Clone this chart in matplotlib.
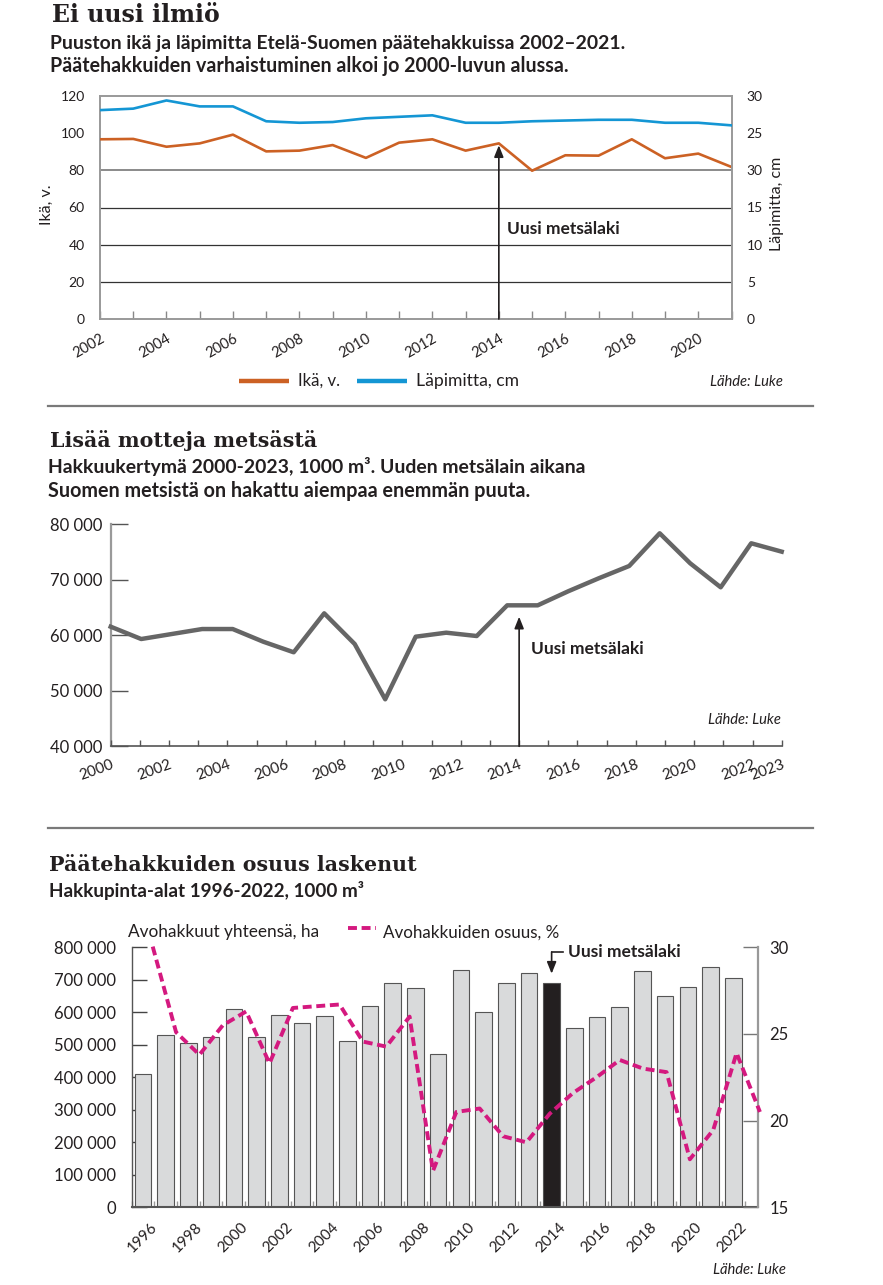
import numpy as np
import matplotlib
matplotlib.use('Agg')
import matplotlib.pyplot as plt
from matplotlib.lines import Line2D

plt.rcParams['font.family'] = ['Lato', 'DejaVu Sans']
plt.rcParams['axes.unicode_minus'] = False

TXT = '#231f20'
ORANGE = '#cc6124'
BLUE = '#1496d4'
PINK = '#d4197f'
W, H = 883, 1285

# ---------------- data: chart 1 ----------------
years1 = list(range(2002, 2022))
age1 = [96.7, 96.9, 92.7, 94.5, 99.2, 90.2, 90.6, 93.6, 86.7, 94.9,
        96.7, 90.6, 94.5, 79.8, 88.1, 87.9, 96.7, 86.5, 89.0, 81.8]
diam1 = [28.1, 28.3, 29.4, 28.6, 28.6, 26.6, 26.4, 26.5, 27.0, 27.2,
         27.4, 26.4, 26.4, 26.6, 26.7, 26.8, 26.8, 26.4, 26.4, 26.05]
age_ticks = [0, 20, 40, 60, 80, 100, 120]
diam_ticks = [0, 5, 10, 15, 20, 25, 30]
diam_tick_labels = ['0', '5', '10', '15', '30', '25', '30']
law_year = 2014

# ---------------- data: chart 2 ----------------
years2 = list(range(2000, 2023))
harvest2 = [61550, 59330, 60230, 61130, 61130, 58850, 56940, 63960, 58430, 48470,
            59750, 60470, 59870, 65400, 65400, 67930, 70270, 72490, 78380, 72970,
            68650, 76580, 75070]
axis_years2 = list(range(2000, 2024))
axis_labels2 = ['2000', '', '2002', '', '2004', '', '2006', '', '2008', '', '2010', '',
                '2012', '', '2014', '', '2016', '', '2018', '', '2020', '', '2022', '2023']
harvest_ticks = [40000, 50000, 60000, 70000, 80000]
harvest_tick_labels = ['40 000', '50 000', '60 000', '70 000', '80 000']

# ---------------- data: chart 3 ----------------
years3 = list(range(1996, 2023))
area3 = [409200, 529200, 504600, 523100, 610200, 523100, 590800, 568100, 587700,
         510800, 618500, 689200, 673900, 470800, 730200, 600000, 689200, 720000,
         691100, 552700, 586500, 616300, 727100, 649200, 678800, 738500, 705600]
share3 = [30.04, 25.1, 23.8, 25.5, 26.3, 23.3, 26.5, 26.6, 26.7, 24.56, 24.27, 26.0,
          17.1, 20.5, 20.7, 19.1, 18.75, 20.4, 21.6, 22.5, 23.5, 23.0, 22.8, 17.77,
          19.46, 23.9, 20.5]
area_ticks = list(range(0, 800001, 100000))
area_tick_labels = ['0', '100 000', '200 000', '300 000', '400 000', '500 000',
                    '600 000', '700 000', '800 000']
share_ticks = [15, 20, 25, 30]
label_years3 = list(range(1996, 2023, 2))

# ---------------- helpers ----------------
fig = plt.figure(figsize=(W / 100, H / 100), dpi=100)
fig.patch.set_facecolor('white')
R = fig.canvas.get_renderer()


def rect(l, t, r, b):
    return [l / W, 1 - b / H, (r - l) / W, (b - t) / H]


def ftext(x, y, s, width=None, size=12, **kw):
    kw.setdefault('color', TXT)
    t = fig.text(x / W, 1 - y / H, s, fontsize=size, **kw)
    if width is not None:
        bb = t.get_window_extent(R)
        t.set_fontsize(size * width / bb.width)
    return t


def fline(x0, x1, y, **kw):
    fig.add_artist(Line2D([x0 / W, x1 / W], [1 - y / H, 1 - y / H],
                          transform=fig.transFigure, **kw))


def rot_labels(ax, angle):
    for lab in ax.get_xticklabels():
        lab.set_rotation(angle)
        lab.set_ha('right')
        lab.set_va('top')
        lab.set_rotation_mode('anchor')


TITLE = dict(family=['DejaVu Serif'], fontweight='bold')
SUB = dict(fontweight='bold')
NARROW = ['Liberation Sans Narrow', 'Lato', 'DejaVu Sans']

# ================= chart 1 =================
ftext(52, 22, 'Ei uusi ilmiö', width=168, size=16, va='baseline', **TITLE)
ftext(50, 48.5, 'Puuston ikä ja läpimitta Etelä-Suomen päätehakkuissa 2002–2021.',
      width=570, size=12, va='baseline', **SUB)
ftext(50, 72, 'Päätehakkuiden varhaistuminen alkoi jo 2000-luvun alussa.',
      width=514, size=12, va='baseline', **SUB)

ax1 = fig.add_axes(rect(100, 96, 731.5, 319))
ax1.set_xlim(years1[0], years1[-1])
ax1.set_ylim(age_ticks[0], age_ticks[-1])
for v in age_ticks[1:4]:
    ax1.axhline(v, color='#333333', lw=0.9, zorder=1)
ax1.axhline(age_ticks[4], color='#8a8a8a', lw=1.4, zorder=1)
ax1.plot(years1, age1, color=ORANGE, lw=1.9, zorder=3)
ax1.set_yticks(age_ticks)
ax1.tick_params(axis='y', length=0, pad=11, labelsize=10, labelcolor=TXT)
ax1.set_xticks(years1)
ax1.set_xticklabels([str(y) if y % 2 == 0 else '' for y in years1])
ax1.tick_params(axis='x', direction='in', length=6, width=1, color='#888888',
                pad=9, labelsize=10.5, labelcolor=TXT)
rot_labels(ax1, 30)
for s in ['top', 'left', 'bottom']:
    ax1.spines[s].set_color('#999999')
    ax1.spines[s].set_linewidth(1.4)
ax1.spines['right'].set_visible(False)
ax1.annotate('', xy=(law_year, 93.5), xytext=(law_year, age_ticks[0]),
             arrowprops=dict(arrowstyle='-|>,head_length=0.7,head_width=0.28',
                             color=TXT, lw=1.2, shrinkA=0, shrinkB=0), zorder=4)

ax1r = ax1.twinx()
ax1r.set_ylim(diam_ticks[0], diam_ticks[-1])
ax1r.plot(years1, diam1, color=BLUE, lw=1.9, zorder=3)
ax1r.set_yticks(diam_ticks)
ax1r.set_yticklabels(diam_tick_labels)
ax1r.tick_params(axis='y', length=0, pad=11, labelsize=10, labelcolor=TXT)
for s in ['top', 'left', 'bottom']:
    ax1r.spines[s].set_visible(False)
ax1r.spines['right'].set_color('#999999')
ax1r.spines['right'].set_linewidth(1.4)

ftext(507, 234, 'Uusi metsälaki', width=113, size=11.5, va='baseline', fontweight='bold')
ftext(47, 205, 'Ikä, v.', width=None, size=11.5, rotation=90, ha='center', va='center')
ftext(777, 204, 'Läpimitta, cm', width=None, size=11.5, rotation=90, ha='center', va='center')

# legend chart 1
fline(239, 289, 381, color=ORANGE, lw=3.2, solid_capstyle='butt')
ftext(298, 386, 'Ikä, v.', width=42, size=12, va='baseline', family=NARROW)
fline(357, 407, 381, color=BLUE, lw=3.2, solid_capstyle='butt')
ftext(416, 386, 'Läpimitta, cm', width=102, size=12, va='baseline', family=NARROW)
ftext(783, 386, 'Lähde: Luke', width=73, size=11, ha='right', va='baseline',
      style='italic', family=NARROW)

fline(48, 813, 406, color='#7a7a7a', lw=1.6)

# ================= chart 2 =================
ftext(50, 447, 'Lisää motteja metsästä', width=266, size=16, va='baseline', **TITLE)
ftext(48, 473.3, 'Hakkuukertymä 2000-2023, 1000 m³. Uuden metsälain aikana',
      width=533, size=12, va='baseline', **SUB)
ftext(48, 497.3, 'Suomen metsistä on hakattu aiempaa enemmän puuta.',
      width=476, size=12, va='baseline', **SUB)

ax2 = fig.add_axes(rect(110.7, 524.3, 781.7, 746.3))
ax2.set_xlim(years2[0], years2[-1])
ax2.set_ylim(harvest_ticks[0], harvest_ticks[-1])
ax2.plot(years2, harvest2, color='#666666', lw=3.2, clip_on=False, zorder=3)
ax2.set_xticks([])
ax2.set_yticks(harvest_ticks)
ax2.set_yticklabels(harvest_tick_labels)
ax2.tick_params(axis='y', direction='in', length=12, width=1, color='#555555',
                pad=6, labelsize=12, labelcolor=TXT)
ax2.spines['top'].set_visible(False)
ax2.spines['right'].set_visible(False)
ax2.spines['left'].set_color('#9a9a9a')
ax2.spines['left'].set_linewidth(1.6)
ax2.spines['bottom'].set_color('#555555')
ax2.spines['bottom'].set_linewidth(1.2)

axt = ax2.twiny()
axt.set_xlim(axis_years2[0], axis_years2[-1])
axt.xaxis.set_ticks_position('bottom')
axt.set_xticks(axis_years2)
axt.set_xticklabels(axis_labels2)
axt.tick_params(axis='x', direction='in', length=4.5, width=1, color='#555555',
                pad=8, labelsize=11, labelcolor=TXT)
rot_labels(axt, 20)
for s in axt.spines.values():
    s.set_visible(False)
axt.annotate('', xy=(law_year, 63350), xytext=(law_year, harvest_ticks[0]),
             arrowprops=dict(arrowstyle='-|>,head_length=0.7,head_width=0.28',
                             color=TXT, lw=1.2, shrinkA=0, shrinkB=0), zorder=4)

ftext(530.7, 654, 'Uusi metsälaki', width=113, size=11.5, va='baseline', fontweight='bold')
ftext(781, 724, 'Lähde: Luke', width=73, size=11, ha='right', va='baseline',
      style='italic')

fline(48, 813, 828, color='#7a7a7a', lw=1.6)

# ================= chart 3 =================
ftext(49.3, 870.7, 'Päätehakkuiden osuus laskenut', width=366, size=16, va='baseline', **TITLE)
ftext(49.3, 896.7, 'Hakkupinta-alat 1996-2022, 1000 m³', width=314, size=13,
      va='baseline', **SUB)

ax3 = fig.add_axes(rect(131.7, 947.3, 758.3, 1207.3))
ax3.set_xlim(years3[0] - 0.484, years3[-1] + 1.105)
ax3.set_ylim(area_ticks[0], area_ticks[-1])
bar_colors = [TXT if y == law_year else '#d9dadb' for y in years3]
ax3.bar(years3, area3, width=0.73, color=bar_colors, edgecolor='#555555',
        linewidth=0.8, zorder=2)
ax3.set_yticks(area_ticks)
ax3.set_yticklabels(area_tick_labels)
ax3.tick_params(axis='y', direction='in', length=11, width=1, color='#444444',
                pad=11, labelsize=12, labelcolor=TXT)
ax3.set_xticks([y + 0.3 for y in label_years3])
ax3.set_xticklabels([str(y) for y in label_years3])
ax3.set_xticks([y + 0.5 for y in range(years3[0] - 1, years3[-1] + 1)], minor=True)
ax3.tick_params(axis='x', which='major', length=0, pad=9, labelsize=11, labelcolor=TXT)
ax3.tick_params(axis='x', which='minor', direction='in', length=4.5, width=1,
                color='#9a9a9a')
rot_labels(ax3, 45)
ax3.spines['top'].set_visible(False)
ax3.spines['right'].set_visible(False)
ax3.spines['left'].set_color('#555555')
ax3.spines['left'].set_linewidth(1.0)
ax3.spines['bottom'].set_color('#555555')
ax3.spines['bottom'].set_linewidth(1.5)

# "Uusi metsälaki" elbow arrow
ax3.plot([law_year + 0.5, law_year], [785600, 785600], color=TXT, lw=1.2,
         clip_on=False, zorder=5)
ax3.annotate('', xy=(law_year, 718800), xytext=(law_year, 785600),
             arrowprops=dict(arrowstyle='-|>,head_length=0.7,head_width=0.28',
                             color=TXT, lw=1.2, shrinkA=0, shrinkB=0),
             annotation_clip=False, zorder=5)

ax3p = fig.add_axes(rect(131.7, 947.3, 758.3, 1207.3))
ax3p.set_xlim(1995.10, 2021.93)
ax3p.set_ylim(share_ticks[0], share_ticks[-1])
ax3p.patch.set_visible(False)
ax3p.plot(years3, share3, color=PINK, lw=2.8, dashes=(2.3, 1.2), clip_on=False, zorder=3)
ax3p.xaxis.set_visible(False)
ax3p.yaxis.tick_right()
ax3p.set_yticks(share_ticks)
ax3p.tick_params(axis='y', direction='in', length=11, width=1, color='#777777',
                 pad=8, labelsize=12, labelcolor=TXT)
for s in ['top', 'left', 'bottom']:
    ax3p.spines[s].set_visible(False)
ax3p.spines['right'].set_color('#999999')
ax3p.spines['right'].set_linewidth(1.6)

ftext(568.3, 956.7, 'Uusi metsälaki', width=113, size=11.5, va='baseline', fontweight='bold')
ftext(128.3, 937.3, 'Avohakkuut yhteensä, ha', width=190, size=12, va='baseline')
fline(348, 376, 928, color=PINK, lw=2.8, dashes=(2.3, 1.2))
ftext(383, 937.3, 'Avohakkuiden osuus, %', width=176, size=12, va='baseline')
ftext(786, 1274, 'Lähde: Luke', width=73, size=11, ha='right', va='baseline',
      style='italic')

fig.savefig('out.png', dpi=100, facecolor='white')
